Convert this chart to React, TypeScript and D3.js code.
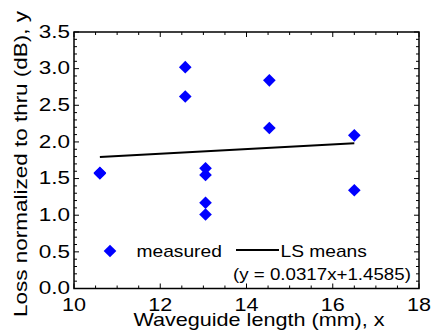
import React from 'react';
import * as d3 from 'd3';

// measured points: waveguide length (mm) vs loss normalized to thru (dB)
const lengths = [10.6, 10.6, 12.58, 12.58, 13.05, 13.05, 13.05, 13.05, 14.53, 14.53, 16.5, 16.5];
const losses = [1.58, 1.57, 3.02, 2.62, 1.64, 1.55, 1.17, 1.01, 2.84, 2.19, 2.09, 1.34];

// least squares line y = slope*x + intercept
const lsSlope = 0.0317;
const lsIntercept = 1.4585;
const lsRange = [10.6, 16.5];

const xTicks = [10, 12, 14, 16, 18];
const yTicks = [0.0, 0.5, 1.0, 1.5, 2.0, 2.5, 3.0, 3.5];

const xTitle = 'Waveguide length (mm), x';
const yTitle = 'Loss normalized to thru (dB), y';
const legendPoints = 'measured';
const legendLine = 'LS means';
const legendEq = '(y = 0.0317x+1.4585)';

const W = 436;
const H = 333;
const FONT = '"Liberation Sans", Arial, sans-serif';
const SX = 1.2; // the fonts in the picture are drawn a little wide

export default function App() {
  const left = 74, right = 419, top = 32, bottom = 288.5;

  const x = d3.scaleLinear().domain([10, 18]).range([left, right]);
  const y = d3.scaleLinear().domain([0, 3.5]).range([bottom, top]);

  const xMinor = d3.range(10, 18.001, 0.5);
  const yMinor = d3.range(0, 3.5001, 0.1);
  const isMajorX = (v) => Math.abs(v / 2 - Math.round(v / 2)) < 1e-6;
  const isMajorY = (v) => Math.abs(v / 0.5 - Math.round(v / 0.5)) < 1e-6;

  const diamond = d3.symbol().type(d3.symbolSquare).size(80)();

  const lsLine = d3.line()
    .x((d) => x(d))
    .y((d) => y(lsSlope * d + lsIntercept));

  const pts = lengths.map((l, i) => ({ l, v: losses[i] }));

  return (
    <svg width={W} height={H} style={{ position: 'absolute', left: 0, top: 0, background: '#fff' }}
      fontFamily={FONT}>
      {/* frame */}
      <rect x={left} y={top} width={right - left} height={bottom - top} fill="none" stroke="#000" strokeWidth={1.5} />

      {/* x ticks, bottom and top, pointing in */}
      {xMinor.map((v, i) => {
        const len = isMajorX(v) ? 5 : 3;
        return (
          <g key={'xt' + i} stroke="#000" strokeWidth={1}>
            <line x1={x(v)} x2={x(v)} y1={bottom} y2={bottom - len} />
            <line x1={x(v)} x2={x(v)} y1={top} y2={top + len} />
          </g>
        );
      })}
      {/* y ticks, left and right */}
      {yMinor.map((v, i) => {
        const len = isMajorY(v) ? 5 : 3;
        return (
          <g key={'yt' + i} stroke="#000" strokeWidth={1}>
            <line x1={left} x2={left + len} y1={y(v)} y2={y(v)} />
            <line x1={right} x2={right - len} y1={y(v)} y2={y(v)} />
          </g>
        );
      })}

      {/* tick labels */}
      {xTicks.map((v) => (
        <text key={'xl' + v} fontSize={18} textAnchor="middle"
          transform={`translate(${x(v)},${310.5}) scale(${SX},1)`}>{v}</text>
      ))}
      {yTicks.map((v) => (
        <text key={'yl' + v} fontSize={18} textAnchor="end" dominantBaseline="central"
          transform={`translate(${left - 4},${y(v) - 0.5}) scale(${SX + 0.05},1)`}>{v.toFixed(1)}</text>
      ))}

      {/* axis titles */}
      <text fontSize={18} textAnchor="middle"
        transform={`translate(259,326) scale(${SX},1)`}>{xTitle}</text>
      <text fontSize={18} textAnchor="middle"
        transform={`translate(27,164) rotate(-90) scale(${SX + 0.05},1)`}>{yTitle}</text>

      {/* LS line */}
      <path d={lsLine(lsRange)} fill="none" stroke="#000" strokeWidth={2} />

      {/* measured points */}
      {pts.map((p, i) => (
        <path key={'p' + i} d={diamond} fill="#0000ff"
          transform={`translate(${x(p.l)},${y(p.v)}) rotate(45)`} />
      ))}

      {/* legend */}
      <path d={diamond} fill="#0000ff" transform="translate(110,251) rotate(45)" />
      <text fontSize={16} transform={`translate(136.5,257) scale(${SX},1)`}>{legendPoints}</text>
      <line x1={236} x2={279} y1={250} y2={250} stroke="#000" strokeWidth={2} />
      <text fontSize={16} transform={`translate(280.5,257) scale(${SX},1)`}>{legendLine}</text>
      <text fontSize={16} transform={`translate(233,280) scale(${SX - 0.03},1)`}>{legendEq}</text>
    </svg>
  );
}
